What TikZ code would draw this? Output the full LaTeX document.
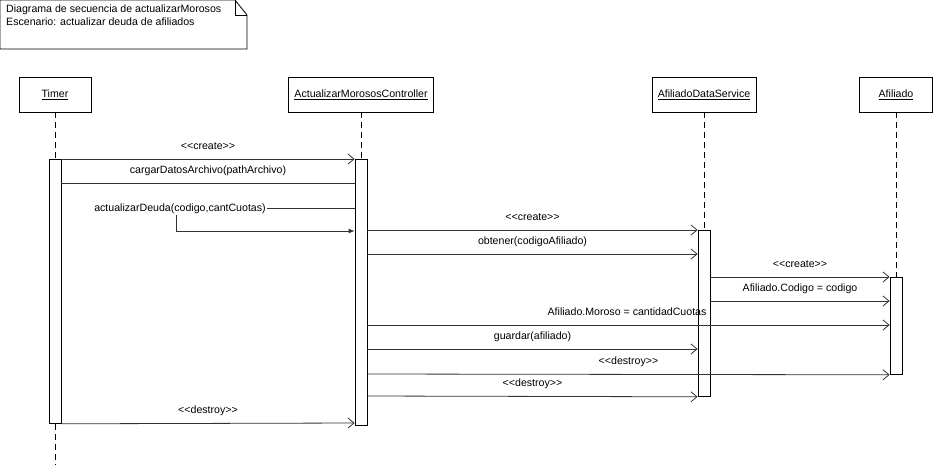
\documentclass[tikz,border=0pt]{standalone}
\usepackage{fontspec}
\setmainfont{Liberation Sans}
\usetikzlibrary{arrows.meta}
\newcommand{\estereo}[1]{<\kern0pt<#1>\kern0pt>}
\tikzset{%
    cabeza/.style={draw, line width=0.8pt, minimum height=35pt, inner sep=0pt},
    activa/.style={draw, fill=white, line width=0.8pt, minimum width=12pt, inner sep=0pt, anchor=north},
    vida/.style={line width=0.8pt, dash pattern=on 6pt off 4pt},
    msj/.style={line width=0.8pt, draw=black!80, -{Straight Barb[length=6pt,width=10pt]}},
    retorno/.style={line width=0.8pt, draw=black!80},
    etiq/.style={anchor=base, yshift=10pt, inner sep=0pt}
}

\begin{document}
\begin{tikzpicture}[x=1pt, y=-1pt, font=\fontsize{10.6}{12.8}\selectfont]
    \useasboundingbox (0,0) rectangle (933,464);
    % nota
    \draw[line width=0.8pt] (0,0) -- (235,0) -- (247,15) -- (247,49) -- (0,49) -- cycle;
    \draw[line width=0.8pt] (235,0) -- (235,15) -- (247,15);
    \node[anchor=north west, align=left, inner sep=0pt] (nota) at (6,5)
        {Diagrama de secuencia de actualizarMorosos\\Escenario: actualizar deuda de afiliados};

    \node[cabeza, minimum width=72pt] (timer) at (55,94.5) {\underline{Timer}};
    \node[cabeza, minimum width=145pt] (ctrl) at (361,94.5) {\underline{ActualizarMorososController}};
    \node[cabeza, minimum width=104pt] (servicio) at (704,94.5) {\underline{AfiliadoDataService}};
    \node[cabeza, minimum width=73pt] (afil) at (896,94.5) {\underline{Afiliado}};

    \node[activa, minimum height=264pt] (tA) at (55,159) {};
    \node[activa, minimum height=266pt] (cA) at (361,159) {};
    \node[activa, minimum height=166pt] (sA) at (704,230) {};
    \node[activa, minimum height=97pt] (fA) at (896,277) {};
    \coordinate (fin) at (55,464);

    \draw[vida] (timer) -- (tA);
    \draw[vida] (tA) -- (fin);
    \draw[vida] (ctrl) -- (cA);
    \draw[vida] (servicio) -- (sA);
    \draw[vida] (afil) -- (fA);

    \draw[msj] (tA.north east) -- node[etiq]{\estereo{create}} (cA.north west);
    \draw[retorno] ([yshift=-24pt]cA.north west) -- node[etiq]{cargarDatosArchivo(pathArchivo)} ([yshift=-24pt]tA.north east);
    \node[anchor=base, inner sep=1.5pt] (deuda) at (180,211) {actualizarDeuda(codigo,cantCuotas)};
    \draw[retorno] (deuda.east) -- (deuda.east -| cA.west);
    \draw[retorno, -{Latex[length=6pt,width=5pt]}] ([xshift=-4pt]deuda.south) |- ([yshift=-72pt]cA.north west);
    \draw[msj] ([yshift=-71pt]cA.north east) -- node[etiq]{\estereo{create}} (sA.north west);
    \draw[msj] ([yshift=-95pt]cA.north east) -- node[etiq]{obtener(codigoAfiliado)} ([yshift=-24pt]sA.north west);
    \draw[msj] ([yshift=-47pt]sA.north east) -- node[etiq]{\estereo{create}} (fA.north west);
    \draw[msj] ([yshift=-71pt]sA.north east) -- node[etiq]{Afiliado.Codigo = codigo} ([yshift=-24pt]fA.north west);
    \draw[msj] ([yshift=-166pt]cA.north east) -- node[etiq, anchor=base east, pos=0.65]{Afiliado.Moroso = cantidadCuotas} ([yshift=-48pt]fA.north west);
    \draw[msj] ([yshift=-190pt]cA.north east) -- node[etiq]{guardar(afiliado)} ([yshift=-119pt]sA.north west);
    \draw[msj] ([yshift=-215pt]cA.north east) -- node[etiq]{\estereo{destroy}} (fA.south west);
    \draw[msj] ([yshift=-237pt]cA.north east) -- node[etiq]{\estereo{destroy}} (sA.south west);
    \draw[msj] (tA.south east) -- node[etiq]{\estereo{destroy}} ([yshift=-264pt]cA.north west);
\end{tikzpicture}
\end{document}
